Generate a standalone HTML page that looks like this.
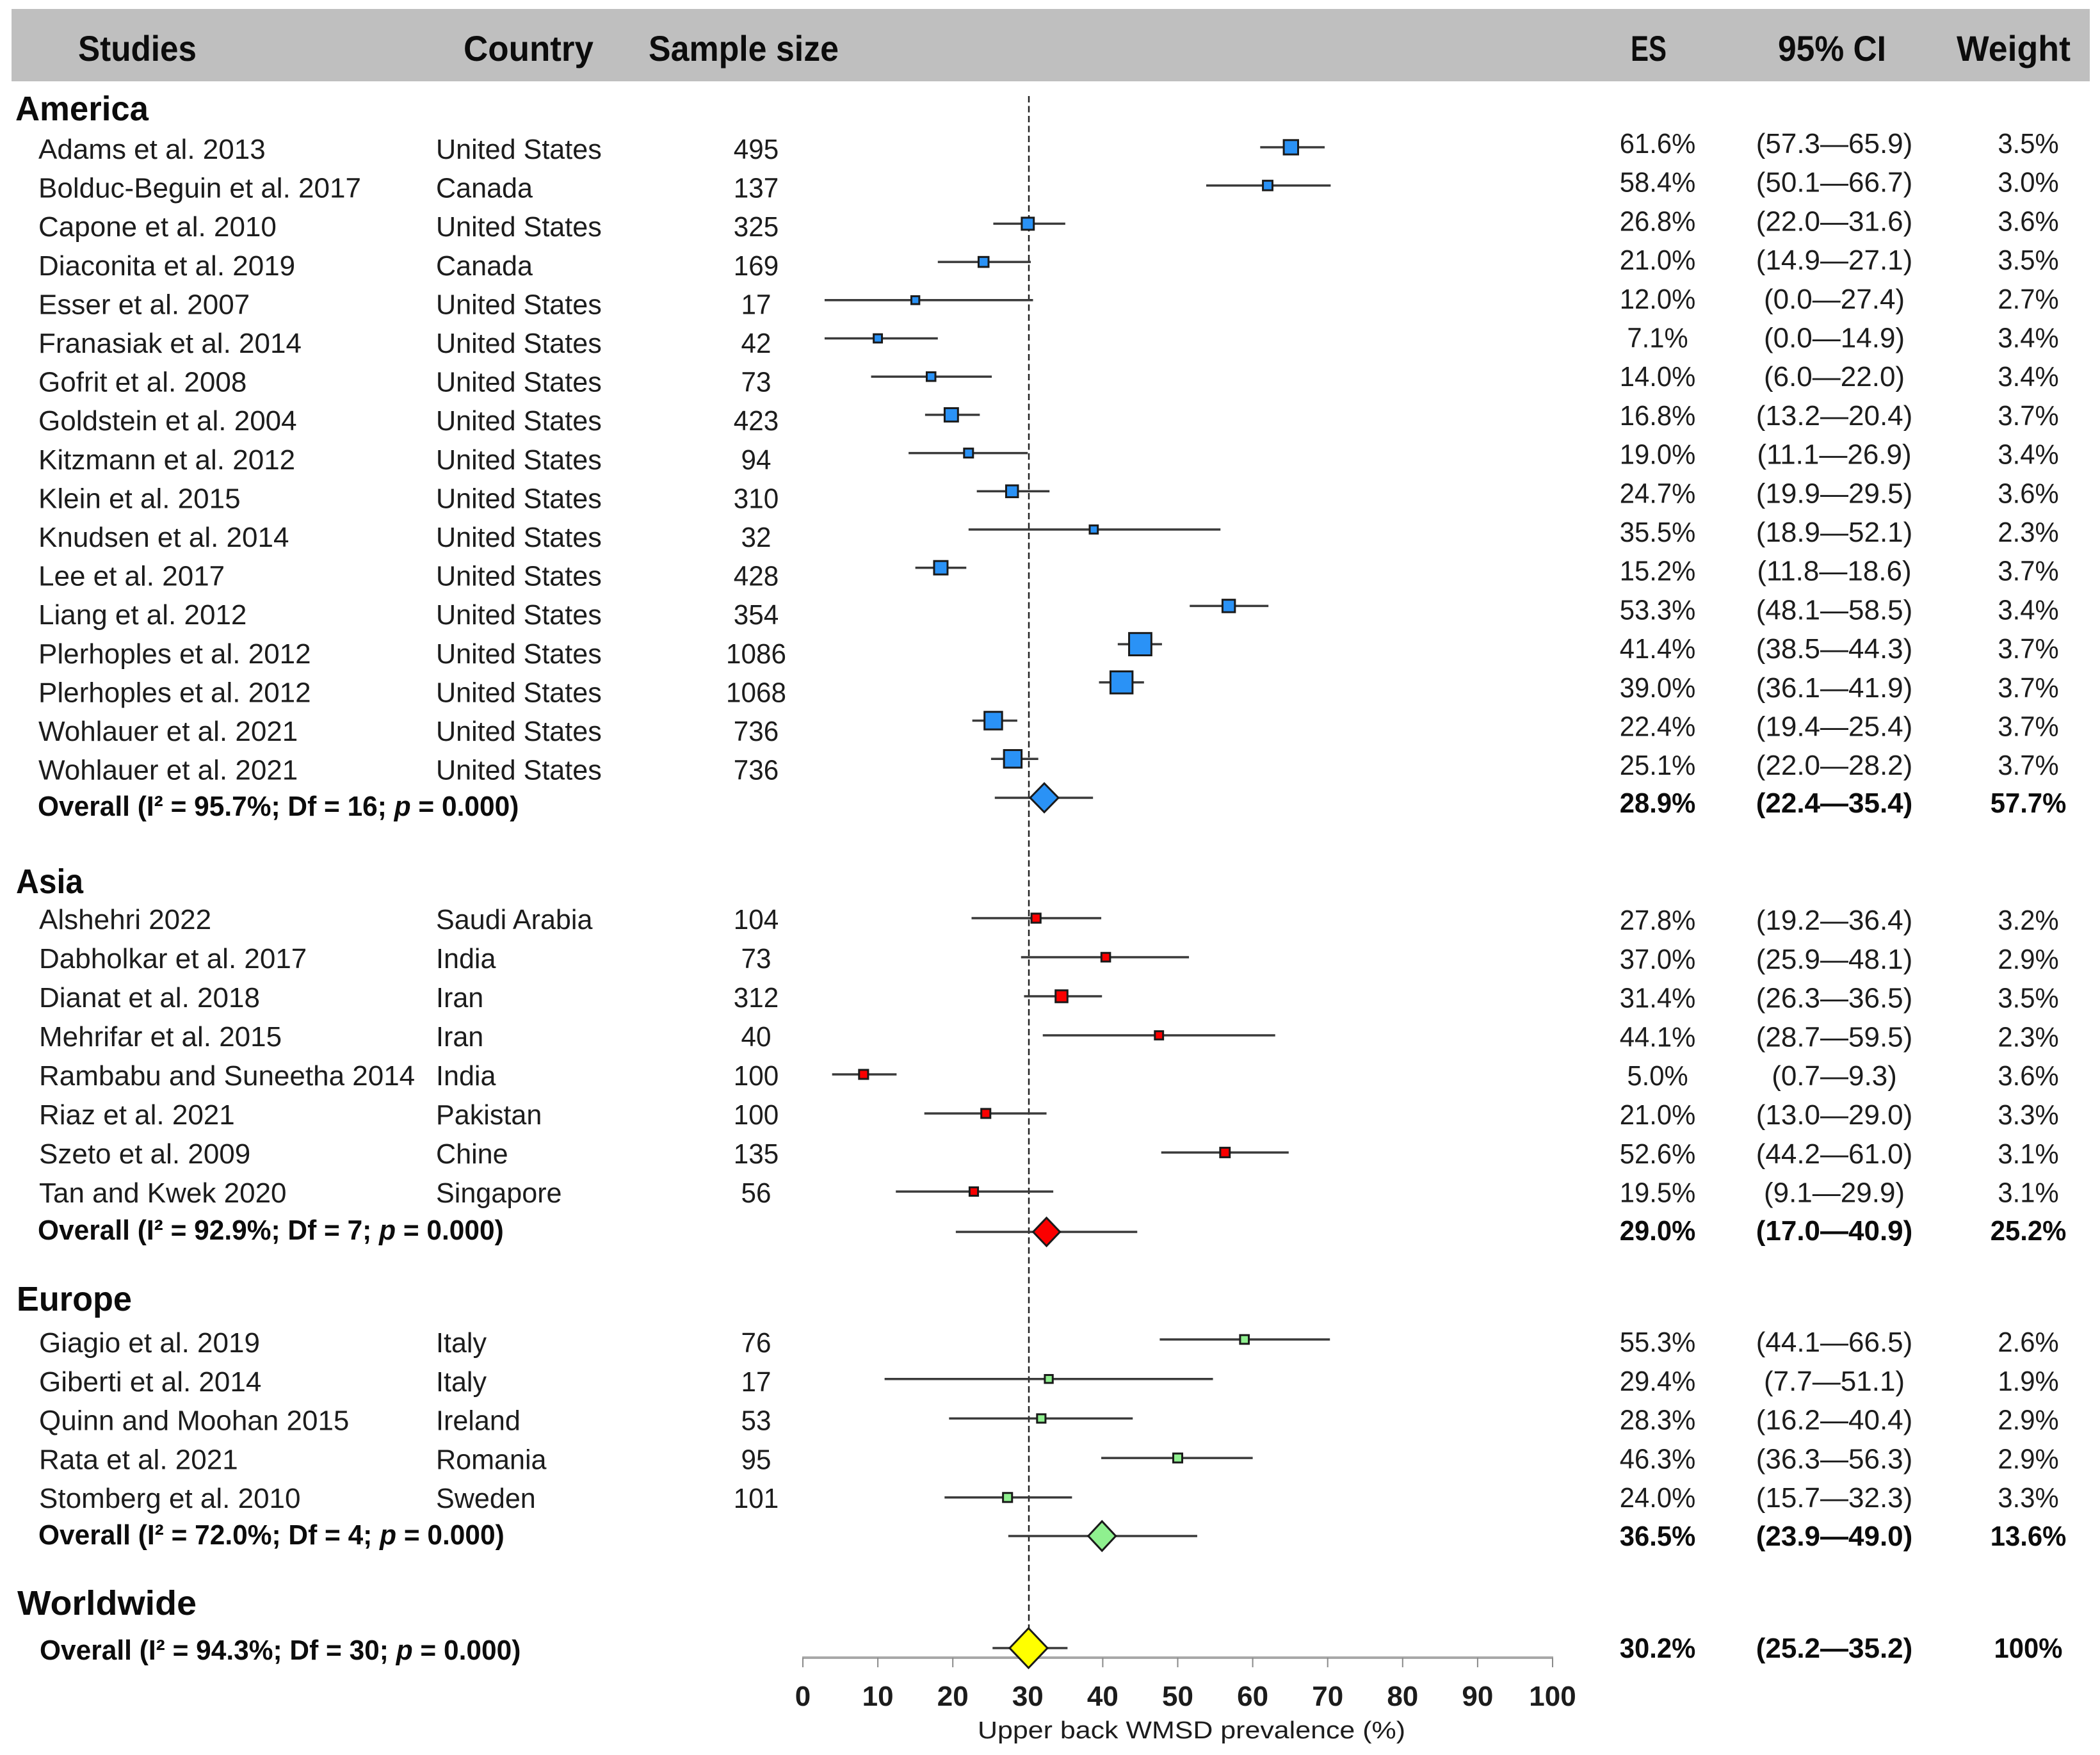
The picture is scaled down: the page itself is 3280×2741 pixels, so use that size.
<!DOCTYPE html>
<html lang="en">
<head>
<meta charset="utf-8">
<title>Forest plot of upper back WMSD prevalence</title>
<style>
html,body{margin:0;padding:0;background:#fff;width:3280px;height:2741px;overflow:hidden}
svg{display:block}
text{font-family:"Liberation Sans",sans-serif;fill:#1c1c1c}
.hdr{font-weight:700;font-size:56px;fill:#0c0c0c}
.grp{font-weight:700;font-size:54px;fill:#0c0c0c}
.ovl{font-weight:700;font-size:44px;fill:#0c0c0c}
</style>
</head>
<body>
<svg id="plot" xmlns="http://www.w3.org/2000/svg" width="3280" height="2741" viewBox="0 0 3280 2741">
  <rect x="18" y="14" width="3246" height="113" fill="#bfbfbf"/>
  <text class="hdr" x="122" y="95" textLength="185" lengthAdjust="spacingAndGlyphs">Studies</text>
  <text class="hdr" x="724" y="95" textLength="203" lengthAdjust="spacingAndGlyphs">Country</text>
  <text class="hdr" x="1013" y="95" textLength="297" lengthAdjust="spacingAndGlyphs">Sample size</text>
  <text class="hdr" x="2547" y="95" textLength="56" lengthAdjust="spacingAndGlyphs">ES</text>
  <text class="hdr" x="2777" y="95" textLength="169" lengthAdjust="spacingAndGlyphs">95% CI</text>
  <text class="hdr" x="3056" y="95" textLength="178" lengthAdjust="spacingAndGlyphs">Weight</text>

  <text class="grp" x="24" y="188" textLength="208" lengthAdjust="spacingAndGlyphs">America</text>
  <text class="grp" x="25" y="1395" textLength="105" lengthAdjust="spacingAndGlyphs">Asia</text>
  <text class="grp" x="26" y="2047" textLength="180" lengthAdjust="spacingAndGlyphs">Europe</text>
  <text class="grp" x="27" y="2522" textLength="280" lengthAdjust="spacingAndGlyphs">Worldwide</text>

  <text class="ovl" transform="translate(59,1274) scale(.965,1)">Overall (I² = 95.7%; Df = 16; <tspan font-style="italic">p</tspan> = 0.000)</text>
  <text class="ovl" transform="translate(59,1936) scale(.965,1)">Overall (I² = 92.9%; Df = 7; <tspan font-style="italic">p</tspan> = 0.000)</text>
  <text class="ovl" transform="translate(60,2412) scale(.965,1)">Overall (I² = 72.0%; Df = 4; <tspan font-style="italic">p</tspan> = 0.000)</text>
  <text class="ovl" transform="translate(62,2592) scale(.965,1)">Overall (I² = 94.3%; Df = 30; <tspan font-style="italic">p</tspan> = 0.000)</text>

  <line x1="1607" y1="150" x2="1607" y2="2545" stroke="#222" stroke-width="2.5" stroke-dasharray="10 5.5"/>
  <text x="1527" y="2715" font-size="38" textLength="668" lengthAdjust="spacingAndGlyphs">Upper back WMSD prevalence (%)</text>
  <g id="axis"></g>
  <g id="rows"></g>
  <g id="marks"></g>
</svg>
<script>
/* ---------- chart data ---------- */
const xTicks = [0,10,20,30,40,50,60,70,80,90,100];

const americaStudies = ["Adams et al. 2013","Bolduc-Beguin et al. 2017","Capone et al. 2010","Diaconita et al. 2019","Esser et al. 2007","Franasiak et al. 2014","Gofrit et al. 2008","Goldstein et al. 2004","Kitzmann et al. 2012","Klein et al. 2015","Knudsen et al. 2014","Lee et al. 2017","Liang et al. 2012","Plerhoples et al. 2012","Plerhoples et al. 2012","Wohlauer et al. 2021","Wohlauer et al. 2021"];
const americaCountries = ["United States","Canada","United States","Canada","United States","United States","United States","United States","United States","United States","United States","United States","United States","United States","United States","United States","United States"];
const americaSamples = [495,137,325,169,17,42,73,423,94,310,32,428,354,1086,1068,736,736];
const americaES = ["61.6%","58.4%","26.8%","21.0%","12.0%","7.1%","14.0%","16.8%","19.0%","24.7%","35.5%","15.2%","53.3%","41.4%","39.0%","22.4%","25.1%"];
const americaCI = ["(57.3—65.9)","(50.1—66.7)","(22.0—31.6)","(14.9—27.1)","(0.0—27.4)","(0.0—14.9)","(6.0—22.0)","(13.2—20.4)","(11.1—26.9)","(19.9—29.5)","(18.9—52.1)","(11.8—18.6)","(48.1—58.5)","(38.5—44.3)","(36.1—41.9)","(19.4—25.4)","(22.0—28.2)"];
const americaWeight = ["3.5%","3.0%","3.6%","3.5%","2.7%","3.4%","3.4%","3.7%","3.4%","3.6%","2.3%","3.7%","3.4%","3.7%","3.7%","3.7%","3.7%"];
const americaMean = [65.1,62,30,24.1,15,10,17.1,19.8,22.1,27.9,38.8,18.4,56.8,45,42.5,25.4,28];
const americaLow = [61,53.8,25.4,18,2.9,2.9,9.1,16.3,14.1,23.2,22.1,15,51.6,42,39.5,22.6,25.1];
const americaHigh = [69.6,70.4,35,30.4,30.7,18,25.2,23.6,30,32.9,55.7,21.8,62.1,47.9,45.5,28.6,31.4];

const asiaStudies = ["Alshehri 2022","Dabholkar et al. 2017","Dianat et al. 2018","Mehrifar et al. 2015","Rambabu and Suneetha 2014","Riaz et al. 2021","Szeto et al. 2009","Tan and Kwek 2020"];
const asiaCountries = ["Saudi Arabia","India","Iran","Iran","India","Pakistan","Chine","Singapore"];
const asiaSamples = [104,73,312,40,100,100,135,56];
const asiaES = ["27.8%","37.0%","31.4%","44.1%","5.0%","21.0%","52.6%","19.5%"];
const asiaCI = ["(19.2—36.4)","(25.9—48.1)","(26.3—36.5)","(28.7—59.5)","(0.7—9.3)","(13.0—29.0)","(44.2—61.0)","(9.1—29.9)"];
const asiaWeight = ["3.2%","2.9%","3.5%","2.3%","3.6%","3.3%","3.1%","3.1%"];
const asiaMean = [31.1,40.4,34.5,47.5,8.1,24.4,56.3,22.8];
const asiaLow = [22.5,29.1,29.5,32,3.9,16.2,47.8,12.4];
const asiaHigh = [39.8,51.5,39.9,63,12.5,32.5,64.8,33.4];

const europeStudies = ["Giagio et al. 2019","Giberti et al. 2014","Quinn and Moohan 2015","Rata et al. 2021","Stomberg et al. 2010"];
const europeCountries = ["Italy","Italy","Ireland","Romania","Sweden"];
const europeSamples = [76,17,53,95,101];
const europeES = ["55.3%","29.4%","28.3%","46.3%","24.0%"];
const europeCI = ["(44.1—66.5)","(7.7—51.1)","(16.2—40.4)","(36.3—56.3)","(15.7—32.3)"];
const europeWeight = ["2.6%","1.9%","2.9%","2.9%","3.3%"];
const europeMean = [58.9,32.8,31.8,50,27.3];
const europeLow = [47.6,10.9,19.5,39.8,18.9];
const europeHigh = [70.3,54.7,44,60,35.9];

const overallNames = ["america","asia","europe","worldwide"];
const overallES = ["28.9%","29.0%","36.5%","30.2%"];
const overallCI = ["(22.4—35.4)","(17.0—40.9)","(23.9—49.0)","(25.2—35.2)"];
const overallWeight = ["57.7%","25.2%","13.6%","100%"];
const overallMean = [32.2,32.5,39.9,30.1];
const overallLow = [25.6,20.4,27.4,25.3];
const overallHigh = [38.7,44.6,52.6,35.3];

/* ---------- axis functions ---------- */
const NS = "http://www.w3.org/2000/svg";
const X0 = 1254, X100 = 2425;
function xScale(v){ return X0 + (X100 - X0) * v / 100; }
function boxSize(n){ return 12 + 0.021 * n; }

function make(tag, attrs, parent, txt){
  const el = document.createElementNS(NS, tag);
  for (const k in attrs) el.setAttribute(k, attrs[k]);
  if (txt !== undefined) el.textContent = txt;
  parent.appendChild(el);
  return el;
}

const axisG = document.getElementById("axis");
const rowsG = document.getElementById("rows");
const marksG = document.getElementById("marks");

/* x axis */
const AXIS_Y = 2589;
const axisLine = make("line", {x1:xScale(0)-1, x2:xScale(100)+1, y1:AXIS_Y, y2:AXIS_Y, stroke:"#a8a8a8", "stroke-width":4}, axisG);


xTicks.forEach(function(t){
  const tick = make("line", {x1:xScale(t), x2:xScale(t), y1:AXIS_Y, y2:AXIS_Y+15, stroke:"#8a8a8a", "stroke-width":2}, axisG);
  
  
  const lab = make("text", {x:xScale(t), y:2664, "text-anchor":"middle", "font-size":44, "font-weight":700, fill:"#0c0c0c"}, axisG, String(t));
  
  
});

/* text cell, horizontally squeezed to approximate the narrow reference face */
function cell(x, y, str, anchor, sx, bold){
  const el = make("text", {
    transform:"translate("+x+","+y+") scale("+sx+",1)",
    "text-anchor":anchor, "font-size":44
  }, rowsG, str);
  if (bold) { el.setAttribute("font-weight","700"); el.style.fill = "#0c0c0c"; }
  return el;
}
function rightColumns(y, es, ci, weight, bold, region){
  const a = cell(2589, y, es, "middle", .95, bold);
  
  
  const b = cell(2865, y, ci, "middle", 1, bold);
  
  
  const c = cell(3168, y, weight, "middle", .95, bold);
  
  
}
function ciLine(lo, hi, y, region){
  const l = make("line", {x1:xScale(lo), x2:xScale(hi), y1:y, y2:y, stroke:"#3a3a3a", "stroke-width":3.5}, marksG);
  
  
}
function diamond(mean, y, halfW, halfH, fill, region){
  const cx = xScale(mean);
  const d = make("polygon", {
    points:[[cx-halfW,y],[cx,y-halfH],[cx+halfW,y],[cx,y+halfH]].map(function(p){return p.join(",");}).join(" "),
    fill:fill, stroke:"#1a1a1a", "stroke-width":3
  }, marksG);
  
  
}

function drawGroup(region, g){
  g.studies.forEach(function(name, i){
    const yL = g.leftStart + g.leftStep * i;
    const yR = g.rightStart + g.rightStep * i;
    const yM = g.markStart + g.markStep * i;
    const s = cell(g.textX, yL, name, "start", 1, false);
    
    
    const ct = cell(681, yL, g.countries[i], "start", .98, false);
    
    
    const n = cell(1181, yL, String(g.samples[i]), "middle", .96, false);
    
    
    rightColumns(yR, g.es[i], g.ci[i], g.weight[i], false, region);
    ciLine(g.low[i], g.high[i], yM, region);
    const sz = boxSize(g.samples[i]);
    const box = make("rect", {x:xScale(g.mean[i])-sz/2, y:yM-sz/2, width:sz, height:sz, fill:g.fill, stroke:"#1a1a1a", "stroke-width":3}, marksG);
    
    
  });
}

drawGroup("america", {studies:americaStudies, countries:americaCountries, samples:americaSamples, es:americaES, ci:americaCI, weight:americaWeight, mean:americaMean, low:americaLow, high:americaHigh, fill:"#2a92f6", textX:60, leftStart:248, leftStep:60.6, rightStart:239, rightStep:60.7, markStart:230, markStep:59.7});
drawGroup("asia", {studies:asiaStudies, countries:asiaCountries, samples:asiaSamples, es:asiaES, ci:asiaCI, weight:asiaWeight, mean:asiaMean, low:asiaLow, high:asiaHigh, fill:"#fb0000", textX:61, leftStart:1451, leftStep:61, rightStart:1452, rightStep:60.8, markStart:1434, markStep:61});
drawGroup("europe", {studies:europeStudies, countries:europeCountries, samples:europeSamples, es:europeES, ci:europeCI, weight:europeWeight, mean:europeMean, low:europeLow, high:europeHigh, fill:"#8ff08f", textX:61, leftStart:2112, leftStep:60.8, rightStart:2111, rightStep:60.8, markStart:2092, markStep:61.7});

/* overall rows */
const overallFill = ["#2a92f6","#fb0000","#8ff08f","#ffff00"];
const overallHalfW = [22,21,21.5,29.5];
const overallHalfH = [22.5,22,23,31];
const overallMarkY = [1246,1924,2399,2574];
const overallTextY = [1269,1937,2414,2589];
overallNames.forEach(function(region, i){
  rightColumns(overallTextY[i], overallES[i], overallCI[i], overallWeight[i], true, region + '-overall');
  ciLine(overallLow[i], overallHigh[i], overallMarkY[i], region + '-overall');
  diamond(overallMean[i], overallMarkY[i], overallHalfW[i], overallHalfH[i], overallFill[i], region);
});
</script>
</body>
</html>
